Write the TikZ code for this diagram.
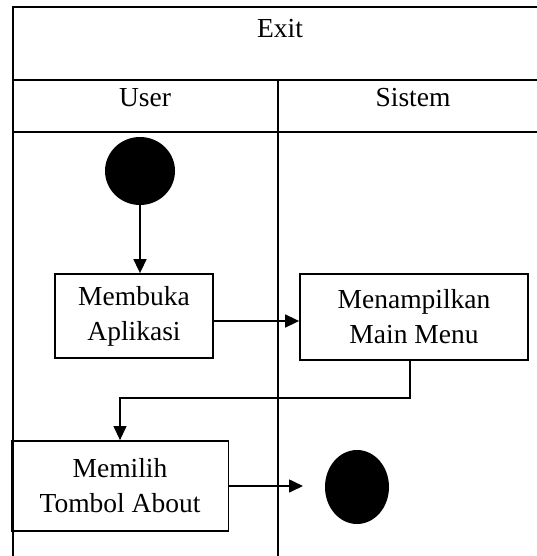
\documentclass[tikz,border=0pt]{standalone}
\usepackage{fontspec}
\setmainfont{Liberation Serif}
\usetikzlibrary{arrows.meta}
\begin{document}
\begin{tikzpicture}[x=1pt,y=-1pt,
  lane/.style={line width=1.8pt},
  actbox/.style={draw,line width=1.8pt,align=center,inner sep=0pt,font=\fontsize{27.5}{35}\selectfont},
  lbl/.style={font=\fontsize{27.5}{33}\selectfont},
  flow/.style={line width=1.6pt,-{Triangle[length=14pt,width=13pt]}},
  thinflow/.style={line width=1.1pt,-{Triangle[length=14pt,width=13pt]}}]
\useasboundingbox (0,0) rectangle (537,556);
\begin{scope}
\clip (0,0) rectangle (537,556);
\draw[lane] (13,600) -- (13,7) -- (560,7);
\draw[lane] (13,80) -- (560,80);
\draw[lane] (13,132) -- (560,132);
\draw[lane] (278,80) -- (278,600);
\end{scope}
\node[lbl] (exit) at (280,29) {Exit};
\node[lbl] (user) at (145,98) {User};
\node[lbl] (sistem) at (413,98) {Sistem};
\fill (140,171) ellipse (35 and 34);
\coordinate (start) at (140,205);
\node[actbox,minimum width=158pt,minimum height=84pt] (buka) at (134,316) {Membuka\\Aplikasi};
\node[actbox,minimum width=228pt,minimum height=86pt] (menu) at (414,317) {Menampilkan\\Main Menu};
\node[actbox,minimum width=217pt,minimum height=90pt] (pilih) at (120,486) {Memilih\\Tombol About};
\fill (357,487) ellipse (32 and 37);
\coordinate (end) at (303,486);
\draw[flow] (start) -- (buka.north -| start);
\draw[flow] (buka.east |- 0,321) -- (menu.west |- 0,321);
\draw[thinflow] (menu.south -| 410,0) -- (410,398) -- (120,398) -- (pilih.north);
\draw[flow] (pilih.east) -- (end);
\end{tikzpicture}
\end{document}
